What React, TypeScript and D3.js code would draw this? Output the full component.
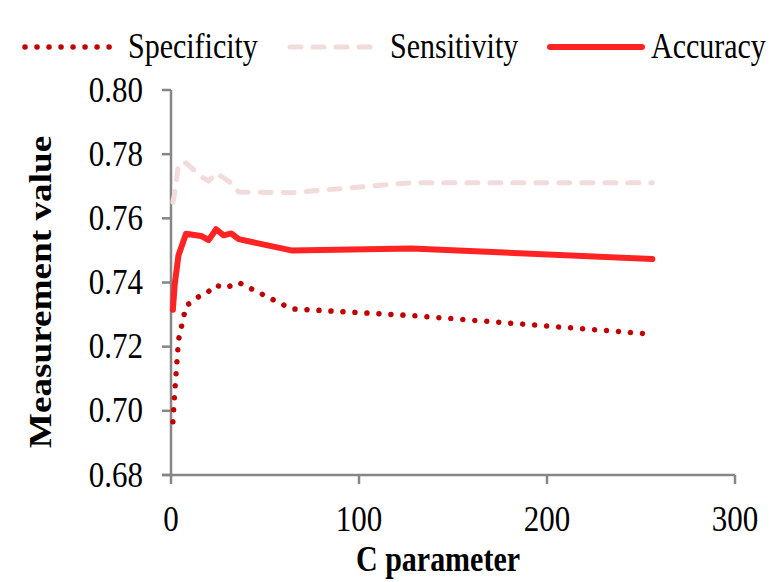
import React from "react";
import * as d3 from "d3";

const cValues = [1, 2, 4, 8, 16, 20, 24, 28, 32, 36, 64, 128, 256];
const specificity = [0.6966, 0.7059, 0.7221, 0.7327, 0.7361, 0.7372, 0.7392, 0.7383, 0.739, 0.74, 0.7318, 0.7297, 0.7239];
const sensitivity = [0.765, 0.768, 0.777, 0.7773, 0.773, 0.7716, 0.7741, 0.7726, 0.771, 0.7682, 0.768, 0.7711, 0.7711];
const accuracy = [0.7315, 0.7395, 0.7485, 0.7552, 0.7545, 0.7532, 0.7566, 0.7547, 0.7553, 0.7535, 0.75, 0.7506, 0.7473];
const xTicks = [0, 100, 200, 300];
const yTicks = [0.68, 0.7, 0.72, 0.74, 0.76, 0.78, 0.8];
const seriesNames = ["Specificity", "Sensitivity", "Accuracy"];

const W = 777;
const H = 582;
const left = 171;
const right = 735;
const top = 90;
const bottom = 475;
const FONT = "'Liberation Serif', 'Times New Roman', serif";
const STRETCH = 1.17;

const styles = [
  { color: "#C00000", width: 5.5, dash: "0.01 12", cap: "round" },
  { color: "#F2DCDB", width: 5, dash: "11 12", cap: "round" },
  { color: "#FF2323", width: 6, dash: null, cap: "round" },
];

function T({ x, y, anchor = "start", size = 30, bold = false, children }: any) {
  return (
    <text
      transform={`translate(${x},${y}) scale(1,${STRETCH})`}
      textAnchor={anchor}
      fontSize={size}
      fontWeight={bold ? "bold" : "normal"}
      fill="#000"
    >
      {children}
    </text>
  );
}

export default function App() {
  const x = d3.scaleLinear().domain([0, 300]).range([left, right]);
  const y = d3.scaleLinear().domain([0.68, 0.8]).range([bottom, top]);
  const series = [specificity, sensitivity, accuracy];
  const line = d3
    .line<number>()
    .x((_, i) => x(cValues[i]))
    .y((d) => y(d));

  const legendItems = [
    { x1: 25, x2: 115, tx: 128 },
    { x1: 290, x2: 375, tx: 390 },
    { x1: 550, x2: 642, tx: 651 },
  ];

  return (
    <svg
      width={W}
      height={H}
      style={{ position: "absolute", left: 0, top: 0, background: "#fff" }}
      fontFamily={FONT}
    >
      {/* axes */}
      <line x1={left} x2={left} y1={top} y2={bottom} stroke="#868686" strokeWidth={2.5} />
      <line x1={left - 9} x2={right} y1={bottom} y2={bottom} stroke="#868686" strokeWidth={2.5} />
      {yTicks.map((t) => (
        <g key={t}>
          <line x1={left - 9} x2={left} y1={y(t)} y2={y(t)} stroke="#868686" strokeWidth={2.5} />
          <T x={143} y={y(t) + 11.5} anchor="end" size={31}>
            {t.toFixed(2)}
          </T>
        </g>
      ))}
      {xTicks.map((t) => (
        <g key={t}>
          <line x1={x(t)} x2={x(t)} y1={bottom} y2={bottom + 9} stroke="#868686" strokeWidth={2.5} />
          <T x={x(t)} y={531} anchor="middle" size={31}>
            {t}
          </T>
        </g>
      ))}
      {/* series */}
      {series.map((s, i) => (
        <path
          key={i}
          d={line(s) || ""}
          fill="none"
          stroke={styles[i].color}
          strokeWidth={styles[i].width}
          strokeDasharray={styles[i].dash || undefined}
          strokeLinecap={styles[i].cap as any}
          strokeLinejoin="round"
        />
      ))}
      {/* axis titles */}
      <T x={438} y={571} anchor="middle" size={30} bold>
        C parameter
      </T>
      <text
        transform={`translate(40, 292) rotate(-90) scale(${STRETCH + 0.03},1)`}
        textAnchor="middle"
        dy="0.35em"
        fontSize={31}
        fontWeight="bold"
        fill="#000"
      >
        Measurement value
      </text>
      {/* legend */}
      {legendItems.map((it, i) => (
        <g key={i}>
          <line
            x1={it.x1}
            x2={it.x2}
            y1={47}
            y2={47}
            stroke={styles[i].color}
            strokeWidth={styles[i].width}
            strokeDasharray={styles[i].dash || undefined}
            strokeLinecap={styles[i].cap as any}
          />
          <T x={it.tx} y={58} size={30}>
            {seriesNames[i]}
          </T>
        </g>
      ))}
    </svg>
  );
}
